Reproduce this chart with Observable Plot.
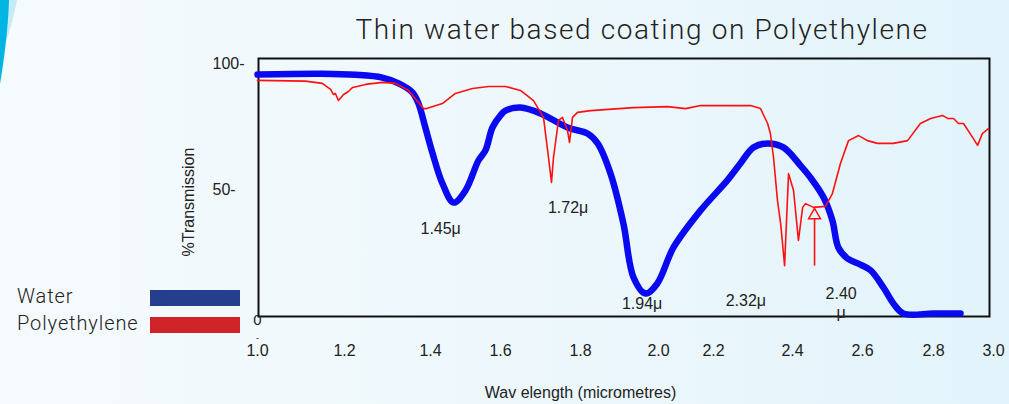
<!DOCTYPE html>
<html>
<head>
<meta charset="utf-8">
<script src="https://cdn.jsdelivr.net/npm/d3@7"></script>
<script src="https://cdn.jsdelivr.net/npm/@observablehq/plot@0.6"></script>
<style>
  html, body { margin: 0; padding: 0; }
  body {
    width: 1009px; height: 404px; overflow: hidden; position: relative;
    background: linear-gradient(to right, #f5fafd 0%, #eef8fc 50%, #e2f3fb 100%);
    font-family: "Liberation Sans", Arial, sans-serif;
  }
  #deco { position: absolute; left: 0; top: 0; }
  #chart { position: absolute; left: 0; top: 0; }
  #title {
    position: absolute; left: 642px; top: 16px; transform: translateX(-50%);
    font-family: Roboto, sans-serif; font-weight: 300; font-size: 28px; line-height: 28px;
    color: #222; white-space: nowrap; letter-spacing: 1.6px;
  }
  .legtext {
    position: absolute; left: 17px; font-family: Roboto, sans-serif; font-weight: 300;
    font-size: 20px; line-height: 20px; color: #222; white-space: nowrap; letter-spacing: 0.9px;
  }
  .legbar { position: absolute; left: 150px; width: 90px; height: 16px; }
</style>
</head>
<body>
<svg id="deco" width="30" height="100">
  <path d="M0,0 L17,0 C14,15 10,30 5,45 L0,45 Z" fill="#c4ebf8"/>
  <path d="M0,0 L9,0 C8,30 4,60 0,84 Z" fill="#00b4e4"/>
</svg>
<div id="chart"></div>
<div id="title">Thin water based coating on Polyethylene</div>
<div class="legtext" style="top:286px">Water</div>
<div class="legtext" style="top:313px">Polyethylene</div>
<div class="legbar" style="top:290px;background:#263e8e"></div>
<div class="legbar" style="top:317px;background:#cf2229"></div>
<script>
// ---- Data ----
const xTickValues = [1.0, 1.2, 1.4, 1.6, 1.8, 2.0, 2.2, 2.4, 2.6, 2.8, 3.0];
const yTickValues = [100, 50];

const waterWavelength = [1.0, 1.149, 1.226, 1.288, 1.326, 1.358, 1.372, 1.388, 1.406, 1.434, 1.466, 1.5, 1.537, 1.557, 1.577, 1.6, 1.6125, 1.65, 1.7, 1.7675, 1.818, 1.844, 1.877, 1.91, 1.936, 1.967, 1.997, 2.0545, 2.153, 2.235, 2.268, 2.301, 2.337, 2.377, 2.423, 2.451, 2.489, 2.514, 2.531, 2.557, 2.594, 2.623, 2.659, 2.687, 2.715, 2.80, 2.89];
const waterTransmission = [95.6, 95.9, 95.5, 94.4, 92.1, 88.5, 84.1, 74.6, 64.3, 52.4, 44.8, 49.6, 61.5, 65.5, 74.6, 79.4, 81.3, 82.5, 80.2, 74.6, 72.2, 68.3, 56.3, 36.5, 15.1, 8.7, 12.7, 27.0, 41.7, 53.6, 60.3, 66.7, 68.3, 66.7, 59.5, 54.8, 46.8, 37.7, 27.0, 22.6, 20.2, 17.9, 11.1, 4.8, 0.8, 0.8, 0.8];

const peWavelength = [1.0, 1.11, 1.149, 1.168, 1.1747, 1.179, 1.186, 1.198, 1.209, 1.219, 1.249, 1.288, 1.319, 1.349, 1.372, 1.384, 1.391, 1.434, 1.471, 1.52, 1.566, 1.6125, 1.65, 1.6825, 1.7075, 1.72, 1.7275, 1.7325, 1.745, 1.755, 1.7675, 1.7725, 1.78, 1.7925, 1.826, 1.936, 2.033, 2.098, 2.153, 2.294, 2.319, 2.337, 2.344, 2.352, 2.362, 2.37, 2.38, 2.39, 2.403, 2.417, 2.429, 2.437, 2.46, 2.494, 2.514, 2.537, 2.56, 2.589, 2.614, 2.642, 2.687, 2.727, 2.763, 2.792, 2.83, 2.847, 2.867, 2.883, 2.9, 2.933, 2.947, 2.963, 2.983];
const peTransmission = [93.3, 93.0, 92.1, 89.7, 87.7, 88.1, 85.3, 87.7, 88.9, 90.5, 91.7, 92.5, 92.1, 89.3, 84.5, 82.1, 82.1, 84.1, 88.1, 90.1, 90.9, 90.9, 89.3, 85.3, 78.6, 62.7, 52.8, 62.7, 77.4, 78.6, 73.4, 68.7, 78.6, 80.6, 81.3, 82.5, 82.9, 82.1, 83.3, 83.3, 82.1, 76.2, 72.2, 62.7, 45.6, 36.5, 19.8, 56.3, 49.6, 29.8, 42.9, 44.4, 42.9, 43.3, 48.4, 60.3, 69.4, 71.4, 69.4, 68.3, 68.3, 69.4, 76.2, 78.2, 79.4, 78.2, 78.2, 76.2, 76.2, 70.2, 67.5, 72.2, 74.2];

const annotationText = ["1.45μ", "1.72μ", "1.94μ", "2.32μ", "2.40", "μ"];
const annotationWavelength = [1.429, 1.769, 1.958, 2.282, 2.539, 2.539];
const annotationTransmission = [34.5, 42.9, 4.8, 6.0, 8.7, 1.2];

const arrowWavelength = 2.463;
const arrowFrom = 19.8;
const arrowTo = 38.5;
const arrowHead = 39.8;

// ---- Layout (scale ranges, not data) ----
const xPixelStops = [257, 344, 430, 500, 580, 658, 713, 792, 862, 933, 993];

const water = waterWavelength.map((w, i) => ({w, t: waterTransmission[i]}));
const pe = peWavelength.map((w, i) => ({w, t: peTransmission[i]}));
const notes = annotationText.map((text, i) => ({text, w: annotationWavelength[i], t: annotationTransmission[i]}));

const font = "'Liberation Sans', Arial, sans-serif";

const chart = Plot.plot({
  width: 1009,
  height: 404,
  marginLeft: 258,
  marginRight: 20,
  marginTop: 58,
  marginBottom: 88,
  x: {type: "linear", domain: xTickValues, range: xPixelStops, axis: null},
  y: {domain: [0, 100], range: [315, 63], axis: null},
  style: {background: "transparent", fontFamily: font, fontSize: "16px", color: "#222", overflow: "visible"},
  marks: [
    Plot.frame({stroke: "#111", strokeWidth: 2}),
    Plot.line(water, {x: "w", y: "t", stroke: "#0a0af0", strokeWidth: 6.5, curve: "catmull-rom", strokeLinecap: "round", strokeLinejoin: "round"}),
    Plot.line(pe, {x: "w", y: "t", stroke: "#ff1010", strokeWidth: 1.6, curve: "linear"}),
    Plot.link([arrowWavelength], {x1: d => d, x2: d => d, y1: () => arrowFrom, y2: () => arrowTo, stroke: "#ff1010", strokeWidth: 1.6}),
    Plot.dot([arrowWavelength], {x: d => d, y: () => arrowHead, symbol: "triangle", r: 4.4, stroke: "#ff1010", strokeWidth: 1.5, fill: "none"}),
    Plot.text(notes, {x: "w", y: "t", text: "text", fontSize: 16, fill: "#222", letterSpacing: 0.6}),
    // x tick labels
    Plot.text(xTickValues, {x: d => d, text: d => d.toFixed(1), frameAnchor: "bottom", dy: 39, fontSize: 16, fill: "#222", letterSpacing: 0.8}),
    // y tick labels
    Plot.text(yTickValues, {y: d => d, text: d => d + "-", frameAnchor: "left", textAnchor: "start", dx: -46, fontSize: 16, fill: "#222", letterSpacing: 0.6}),
    Plot.text(["0"], {x: () => 1.0, y: () => 0, dy: 5, fontSize: 15, fill: "#222"}),
    Plot.text(["-"], {x: () => 1.0, frameAnchor: "bottom", dy: 24, fontSize: 9, fill: "#222"}),
    // axis titles
    Plot.text(["%Transmission"], {y: () => 45, frameAnchor: "left", textAnchor: "middle", dx: -70, rotate: -90, fontSize: 16, fill: "#222", letterSpacing: 0.6}),
    Plot.text(["Wav elength (micrometres)"], {x: () => 1.8, frameAnchor: "bottom", dy: 81, fontSize: 16, fill: "#222"})
  ]
});
document.getElementById("chart").appendChild(chart);
</script>
</body>
</html>
